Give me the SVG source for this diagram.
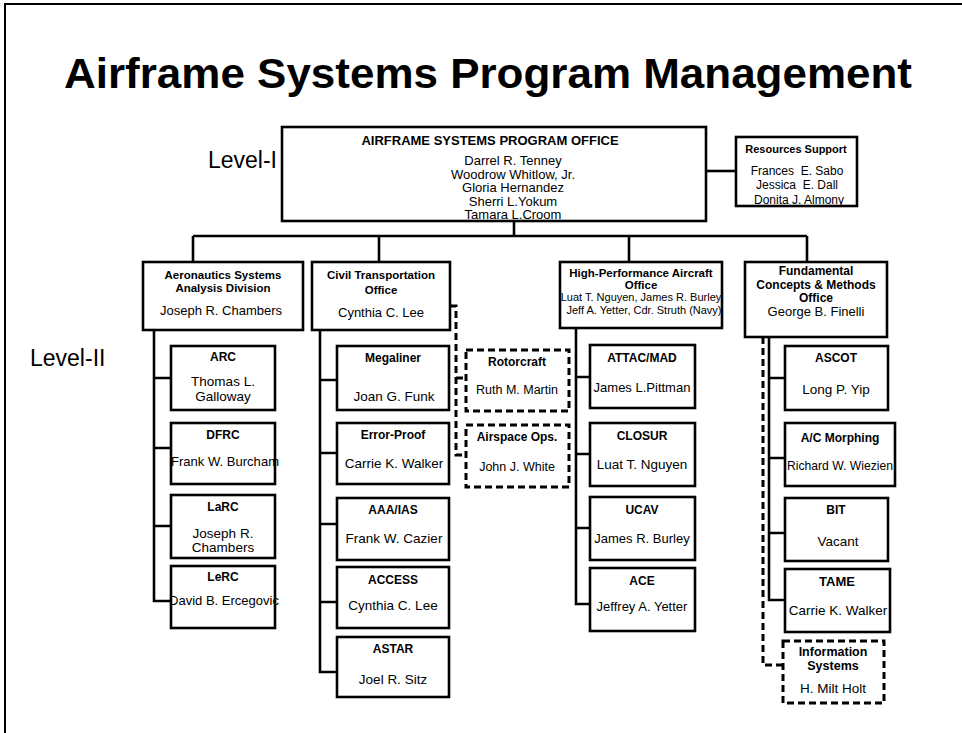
<svg xmlns="http://www.w3.org/2000/svg" width="962" height="733" viewBox="0 0 962 733">
  <style>
    .bg { fill: #ffffff; }
    .frame { stroke: #000; stroke-width: 2; fill: none; }
    .box { fill: #ffffff; stroke: #000; stroke-width: 2.6; }
    .under { fill: #ffffff; stroke: none; }
    .edge { fill: none; stroke: #000; stroke-width: 2.6; }
    .dbox { fill: #ffffff; stroke: #000; stroke-width: 3; stroke-dasharray: 7 4; }
    .ln { stroke: #000; stroke-width: 2.6; fill: none; }
    .dl { stroke: #000; stroke-width: 3; stroke-dasharray: 7 4; fill: none; }
    text { font-family: "Liberation Sans", Arial, Helvetica, sans-serif; fill: #000; }
    .t { font-size: 13.5px; text-anchor: middle; }
    .ts { font-size: 11px; text-anchor: middle; }
    .b { font-size: 12px; font-weight: bold; text-anchor: middle; }
    .hb { font-size: 11.5px; font-weight: bold; text-anchor: middle; }
    .tn { font-size: 13px; text-anchor: middle; }
    .lvl { font-size: 23px; }
    .title { font-size: 43px; font-weight: bold; }
  </style>

  <rect class="bg" x="0" y="0" width="962" height="733"/>
  <!-- page frame -->
  <path class="frame" d="M5,733 V4 H962"/>

  <text class="title" x="64" y="88" textLength="848" lengthAdjust="spacingAndGlyphs">Airframe Systems Program Management</text>
  <text class="lvl" x="277" y="168" text-anchor="end">Level-I</text>
  <text class="lvl" x="30" y="366">Level-II</text>

  <!-- connectors -->
  <g id="connectors">
    <path class="ln" d="M706,171 H736"/>
    <path class="ln" d="M514,221 V236"/>
    <path class="ln" d="M193,236 H807"/>
    <path class="ln" d="M193,236 V262 M379,236 V262 M629,236 V262 M807,236 V262"/>
    <!-- aeronautics branch -->
    <path class="ln" d="M154,330 V601 H171 M154,378 H171 M154,448 H171 M154,526 H171"/>
    <!-- civil branch -->
    <path class="ln" d="M320,330 V672 H337 M320,380 H337 M320,453 H337 M320,524 H337 M320,602 H337"/>
    <path class="dl" d="M450,306 H456 V455 H466 M456,378 H466"/>
    <!-- high-performance branch -->
    <path class="ln" d="M576,328 V604 H590 M576,377 H590 M576,454 H590 M576,528 H590"/>
    <!-- fundamental branch -->
    <path class="ln" d="M769,337 V600 H785 M769,378 H785 M769,458 H785 M769,533 H785"/>
    <path class="dl" d="M763,337 V665 H783"/>
  </g>

  <g id="program-office">
    <rect class="box" x="282" y="127" width="424" height="94"/>
    <text class="b" x="490" y="145" style="font-size:13px">AIRFRAME SYSTEMS PROGRAM OFFICE</text>
    <text class="tn" x="513" y="165">Darrel R. Tenney</text>
    <text class="tn" x="513" y="178.5">Woodrow Whitlow, Jr.</text>
    <text class="tn" x="513" y="192">Gloria Hernandez</text>
    <text class="tn" x="513" y="205.5">Sherri L.Yokum</text>
    <text class="tn" x="513" y="219">Tamara L.Croom</text>
  </g>

  <g id="resources-support">
    <rect class="box" x="736" y="137" width="121" height="69"/>
    <text class="b" x="796" y="153" style="font-size:11px">Resources Support</text>
    <text class="ts" x="797" y="175" style="font-size:12px" xml:space="preserve">Frances  E. Sabo</text>
    <text class="ts" x="797" y="189" style="font-size:12px" xml:space="preserve">Jessica  E. Dall</text>
    <text class="ts" x="799" y="204" style="font-size:12px">Donita J. Almony</text>
  </g>

  <g id="aeronautics">
    <rect class="box" x="143" y="262" width="160" height="68"/>
    <text class="hb" x="223" y="279">Aeronautics Systems</text>
    <text class="hb" x="223" y="292">Analysis Division</text>
    <text class="tn" x="221" y="315">Joseph R. Chambers</text>
  </g>
  <g id="civil">
    <rect class="box" x="312" y="262" width="138" height="68"/>
    <text class="hb" x="381" y="279">Civil Transportation</text>
    <text class="hb" x="381" y="294">Office</text>
    <text class="tn" x="381" y="317">Cynthia C. Lee</text>
  </g>
  <g id="high-performance">
    <rect class="box" x="560" y="262" width="162" height="66"/>
    <text class="hb" x="641" y="277">High-Performance Aircraft</text>
    <text class="hb" x="641" y="289">Office</text>
    <text class="ts" x="641" y="301">Luat T. Nguyen, James R. Burley</text>
    <text class="ts" x="644" y="314">Jeff A. Yetter, Cdr. Struth (Navy)</text>
  </g>
  <g id="fundamental">
    <rect class="box" x="745" y="262" width="142" height="75"/>
    <text class="b" x="816" y="275">Fundamental</text>
    <text class="b" x="816" y="289">Concepts &amp; Methods</text>
    <text class="b" x="816" y="302">Office</text>
    <text class="tn" x="816" y="316">George B. Finelli</text>
  </g>

  <!-- aeronautics children -->
  <g id="arc">
    <rect class="box" x="171" y="346" width="104" height="64"/>
    <text class="b" x="223" y="361">ARC</text>
    <text class="t" x="223" y="386">Thomas L.</text>
    <text class="t" x="223" y="401">Galloway</text>
  </g>
  <g id="dfrc">
    <rect class="under" x="171" y="423" width="104" height="61"/>
    <text class="b" x="223" y="439">DFRC</text>
    <text class="t" x="225" y="466" textLength="108" lengthAdjust="spacingAndGlyphs">Frank W. Burcham</text>
    <rect class="edge" x="171" y="423" width="104" height="61"/>
  </g>
  <g id="larc">
    <rect class="box" x="171" y="495" width="104" height="63"/>
    <text class="b" x="223" y="511">LaRC</text>
    <text class="t" x="223" y="538">Joseph R.</text>
    <text class="t" x="223" y="552">Chambers</text>
  </g>
  <g id="lerc">
    <rect class="under" x="171" y="566" width="104" height="62"/>
    <text class="b" x="223" y="581">LeRC</text>
    <text class="t" x="224" y="605" textLength="110" lengthAdjust="spacingAndGlyphs">David B. Ercegovic</text>
    <rect class="edge" x="171" y="566" width="104" height="62"/>
  </g>

  <!-- civil children -->
  <g id="megaliner">
    <rect class="box" x="337" y="346" width="112" height="64"/>
    <text class="b" x="393" y="362">Megaliner</text>
    <text class="t" x="394" y="401">Joan G. Funk</text>
  </g>
  <g id="error-proof">
    <rect class="box" x="337" y="423" width="112" height="61"/>
    <text class="b" x="393" y="439">Error-Proof</text>
    <text class="t" x="394" y="468">Carrie K. Walker</text>
  </g>
  <g id="aaa-ias">
    <rect class="box" x="337" y="498" width="112" height="62"/>
    <text class="b" x="393" y="514">AAA/IAS</text>
    <text class="t" x="394" y="543">Frank W. Cazier</text>
  </g>
  <g id="access">
    <rect class="box" x="337" y="567" width="112" height="61"/>
    <text class="b" x="393" y="584">ACCESS</text>
    <text class="t" x="393" y="610">Cynthia C. Lee</text>
  </g>
  <g id="astar">
    <rect class="box" x="337" y="637" width="112" height="60"/>
    <text class="b" x="393" y="653">ASTAR</text>
    <text class="t" x="393" y="684">Joel R. Sitz</text>
  </g>
  <g id="rotorcraft">
    <rect class="dbox" x="466" y="350" width="103" height="61"/>
    <text class="b" x="517" y="366">Rotorcraft</text>
    <text class="t" x="517" y="394" style="font-size:12.5px">Ruth M. Martin</text>
  </g>
  <g id="airspace-ops">
    <rect class="dbox" x="466" y="425" width="103" height="62"/>
    <text class="b" x="517" y="441">Airspace Ops.</text>
    <text class="t" x="517" y="471" style="font-size:12.5px">John J. White</text>
  </g>

  <!-- high-performance children -->
  <g id="attac-mad">
    <rect class="box" x="590" y="345" width="105" height="63"/>
    <text class="b" x="642" y="362">ATTAC/MAD</text>
    <text class="t" x="642" y="392" style="font-size:13px">James L.Pittman</text>
  </g>
  <g id="closur">
    <rect class="box" x="590" y="423" width="105" height="63"/>
    <text class="b" x="642" y="440">CLOSUR</text>
    <text class="t" x="642" y="469">Luat T. Nguyen</text>
  </g>
  <g id="ucav">
    <rect class="box" x="590" y="497" width="105" height="63"/>
    <text class="b" x="642" y="514">UCAV</text>
    <text class="t" x="642" y="543" style="font-size:13px">James R. Burley</text>
  </g>
  <g id="ace">
    <rect class="box" x="590" y="568" width="105" height="63"/>
    <text class="b" x="642" y="585">ACE</text>
    <text class="t" x="642" y="611" style="font-size:13px">Jeffrey A. Yetter</text>
  </g>

  <!-- fundamental children -->
  <g id="ascot">
    <rect class="box" x="785" y="346" width="103" height="64"/>
    <text class="b" x="836" y="362">ASCOT</text>
    <text class="t" x="836" y="394">Long P. Yip</text>
  </g>
  <g id="ac-morphing">
    <rect class="under" x="785" y="423" width="110" height="63"/>
    <text class="b" x="840" y="442">A/C Morphing</text>
    <text class="t" x="840" y="470" textLength="106" lengthAdjust="spacingAndGlyphs">Richard W. Wiezien</text>
    <rect class="edge" x="785" y="423" width="110" height="63"/>
  </g>
  <g id="bit">
    <rect class="box" x="785" y="498" width="103" height="63"/>
    <text class="b" x="836" y="514">BIT</text>
    <text class="t" x="838" y="546">Vacant</text>
  </g>
  <g id="tame">
    <rect class="box" x="785" y="569" width="105" height="63"/>
    <text class="b" x="837" y="586" style="font-size:13px">TAME</text>
    <text class="t" x="838" y="615">Carrie K. Walker</text>
  </g>
  <g id="information-systems">
    <rect class="dbox" x="783" y="641" width="101" height="62"/>
    <text class="b" x="833" y="656" style="font-size:12.5px">Information</text>
    <text class="b" x="833" y="670" style="font-size:12.5px">Systems</text>
    <text class="t" x="833" y="693">H. Milt Holt</text>
  </g>
</svg>
